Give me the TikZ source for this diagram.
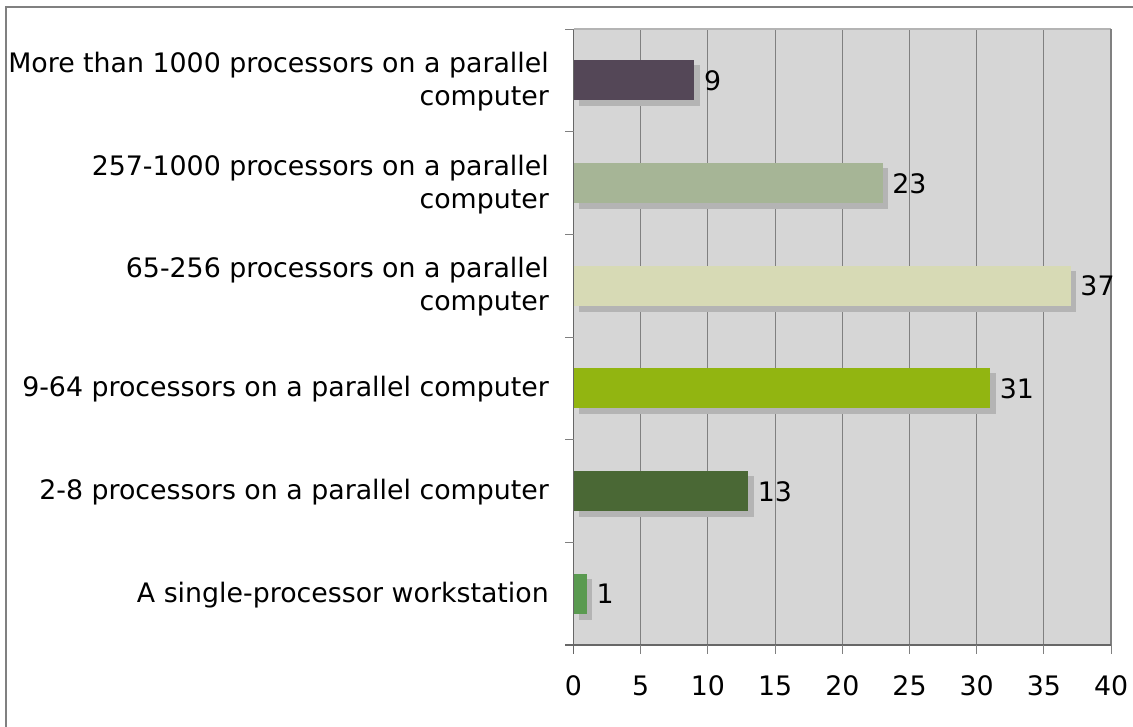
\documentclass[tikz,border=0pt]{standalone}
\usepackage{fontspec}
\setmainfont{DejaVu Sans}
\definecolor{plotbg}{HTML}{D6D6D6}
\definecolor{gridgray}{HTML}{808080}
\definecolor{barshadow}{HTML}{B4B4B4}
\definecolor{barA}{HTML}{544757}
\definecolor{barB}{HTML}{A6B596}
\definecolor{barC}{HTML}{D7DAB5}
\definecolor{barD}{HTML}{92B511}
\definecolor{barE}{HTML}{4A6835}
\definecolor{barF}{HTML}{5A9A50}
\begin{document}
\begin{tikzpicture}[x=1pt,y=-1pt,
  catlabel/.style={anchor=east,align=right,inner sep=0pt,
    font=\fontsize{26.8}{33}\selectfont},
  vallabel/.style={anchor=west,inner sep=2pt,font=\fontsize{26.8}{30}\selectfont},
  ticklabel/.style={anchor=base,inner sep=0pt,font=\fontsize{26.8}{30}\selectfont}]
  \useasboundingbox (0,0) rectangle (1133,726);
  % outer frame
  \draw[gridgray,line width=1.2pt] (6,740) -- (6,7) -- (1140,7);
  % plot area and grid
  \fill[plotbg] (573.5,29) rectangle (1111,645);
  \foreach \t in {5,10,...,35}
    \draw[gridgray,line width=1pt] (573.5+\t*13.44,29) -- (573.5+\t*13.44,645);
  \draw[barshadow,line width=1.5pt] (573.5,29) -- (1111,29);
  \draw[gray,line width=2pt] (1111,29) -- (1111,645);
  % bars
  \foreach \v/\c [count=\k] in {9/barA,23/barB,37/barC,31/barD,13/barE,1/barF} {
    \pgfmathsetmacro\yc{80.3+(\k-1)*102.67}
    \pgfmathsetmacro\xe{573.5+\v*13.44}
    \fill[barshadow] (579,\yc-15) rectangle (\xe+5.5,\yc+26);
    \fill[\c] (573.5,\yc-20) rectangle (\xe,\yc+20);
    \node[vallabel] (val\k) at (\xe+7.5,\yc+0.5) {\v};
  }
  % axes
  \draw[gridgray!80!black,line width=1.2pt] (573.5,29) -- (573.5,654);
  \draw[gridgray!80!black,line width=1.2pt] (565,645) -- (1111,645);
  \foreach \k in {0,...,5}
    \draw[gridgray,line width=1pt] (565,29+\k*102.67) -- (573.5,29+\k*102.67);
  \foreach \t in {5,10,...,40}
    \draw[gridgray,line width=1pt] (573.5+\t*13.44,645) -- (573.5+\t*13.44,654);
  \foreach \t in {0,5,...,40}
    \node[ticklabel] (tick\t) at (573.5+\t*13.44,695) {\t};
  % category labels
  \node[catlabel] (cat1) at (549,82) {More than 1000 processors on a parallel\\computer};
  \node[catlabel] (cat2) at (549,184.5) {257-1000 processors on a parallel\\computer};
  \node[catlabel] (cat3) at (549,287) {65-256 processors on a parallel\\computer};
  \node[catlabel] (cat4) at (549,389.5) {9-64 processors on a parallel computer};
  \node[catlabel] (cat5) at (549,492.5) {2-8 processors on a parallel computer};
  \node[catlabel] (cat6) at (549,595) {A single-processor workstation};
\end{tikzpicture}
\end{document}
